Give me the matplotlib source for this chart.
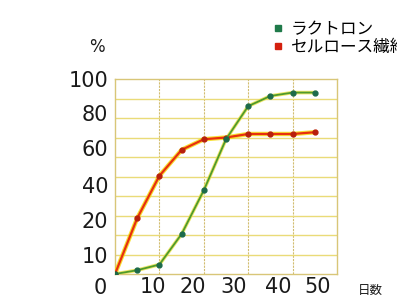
import numpy as np
import matplotlib.pyplot as plt
from matplotlib.lines import Line2D
from matplotlib.ticker import FixedLocator

plt.rcParams['font.family'] = ['DejaVu Sans', 'Noto Sans CJK JP']

# days elapsed
days = [0, 5, 10, 15, 20, 25, 30, 35, 40, 45]
# decomposition rate, %
lactron = [0, 2, 5, 16, 37, 65, 84, 90, 92, 92]
cellulose = [0, 21, 45, 59, 65, 66, 68, 68, 68, 69]

series_names = ['ラクトロン', 'セルロース繊維']
y_ticks = [10, 20, 40, 60, 80, 100]
x_ticks = ['10', '20', '30', '40', '50']

# the original y axis is not linear: label values vs. height in the box
y_marks = [0, 10, 20, 40, 60, 80, 100]
y_frac = [0, 0.097, 0.277, 0.456, 0.646, 0.826, 1.0]

JP = ['Noto Sans CJK JP', 'DejaVu Sans']


def fwd(v):
    return np.interp(v, y_marks, y_frac)


def inv(f):
    return np.interp(f, y_frac, y_marks)


fig = plt.figure(figsize=(3.97, 3.0), dpi=100)
ax = fig.add_axes([115 / 397, 26 / 300, 222 / 397, 195 / 300])

ax.set_yscale('function', functions=(fwd, inv))
ax.set_xlim(0, 50)
ax.set_ylim(0, 100)

# yellow halo under each line, then the line itself
ax.plot(days, cellulose, color='#f5d800', lw=3.2, alpha=0.8, zorder=3)
ax.plot(days, cellulose, color='#e8300e', lw=1.6, marker='o', ms=3.5,
        mfc='#b8200c', mec='#b8200c', zorder=4)
ax.plot(days, lactron, color='#e8e040', lw=2.6, alpha=0.8, zorder=3)
ax.plot(days, lactron, color='#4f9a2c', lw=1.3, marker='o', ms=3.5,
        mfc='#1c6a4a', mec='#1c6a4a', zorder=4)

# grid: even steps in the box, not in value
ax.yaxis.set_minor_locator(FixedLocator(inv(np.arange(1, 10) / 10)))
ax.xaxis.set_minor_locator(FixedLocator([10, 20, 30, 40]))
ax.grid(which='minor', axis='y', color='#eadb78', lw=1.0)
ax.grid(which='minor', axis='x', color='#d2bd70', lw=0.8, ls=(0, (2, 1)))
for s in ax.spines.values():
    s.set_color('#d8c678')
    s.set_linewidth(1.0)

ax.set_yticks(y_ticks)
ax.set_yticklabels([str(v) for v in y_ticks])
# labels in the original drift left of the grid lines
ax.set_xticks([8.6, 17.6, 26.7, 36.7, 45.7])
ax.set_xticklabels(x_ticks)
ax.tick_params(which='both', length=0, labelsize=15, colors='#1a1a1a')
ax.tick_params(axis='y', pad=5)
ax.tick_params(axis='x', pad=2)

fig.text(100 / 397, 1 - 288 / 300, '0', fontsize=15, ha='center', va='center',
         color='#1a1a1a')
fig.text(97 / 397, 1 - 47 / 300, '%', fontsize=12, ha='center', va='center',
         color='#1a1a1a')
fig.text(370 / 397, 1 - 290 / 300, '日数', fontsize=9, ha='center',
         va='center', color='#1a1a1a', family=JP)

handles = [
    Line2D([], [], ls='none', marker='s', ms=4, color='#1f7a4a'),
    Line2D([], [], ls='none', marker='s', ms=4, color='#d4200e'),
]
# the second label runs off the right edge, as in the original
fig.legend(handles, series_names, loc='upper left',
           bbox_to_anchor=(274 / 397, 1 - 21 / 300), frameon=False,
           prop={'family': JP, 'size': 12}, handlelength=0.5,
           handletextpad=0.5, labelspacing=0.05, borderpad=0,
           borderaxespad=0)

fig.savefig('out.png', dpi=100, facecolor='white')
